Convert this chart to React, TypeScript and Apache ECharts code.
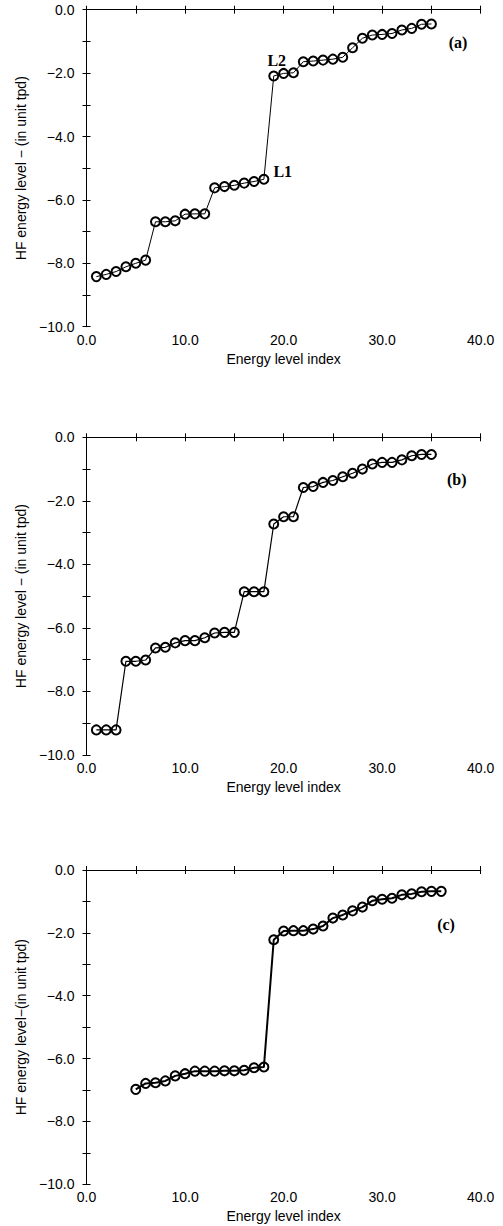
import React, { useEffect, useRef } from "react";
import * as echarts from "echarts";

// Energy levels (index starts given separately)
const aStart = 1;
const aLevels = [-8.42, -8.35, -8.26, -8.11, -8.0, -7.9, -6.69, -6.69, -6.66, -6.45, -6.44, -6.44, -5.62, -5.58, -5.54, -5.47, -5.42, -5.35, -2.09, -2.01, -1.99, -1.64, -1.62, -1.59, -1.56, -1.5, -1.2, -0.9, -0.8, -0.78, -0.75, -0.64, -0.59, -0.46, -0.45];
const bStart = 1;
const bLevels = [-9.21, -9.21, -9.21, -7.05, -7.05, -7.01, -6.63, -6.61, -6.47, -6.4, -6.4, -6.31, -6.16, -6.14, -6.14, -4.86, -4.86, -4.86, -2.73, -2.5, -2.5, -1.58, -1.55, -1.42, -1.36, -1.24, -1.13, -1.0, -0.84, -0.79, -0.79, -0.71, -0.58, -0.54, -0.54];
const cStart = 5;
const cLevels = [-6.98, -6.79, -6.77, -6.71, -6.55, -6.48, -6.4, -6.4, -6.4, -6.39, -6.39, -6.37, -6.29, -6.27, -2.22, -1.94, -1.93, -1.93, -1.88, -1.78, -1.53, -1.43, -1.3, -1.18, -0.98, -0.93, -0.9, -0.79, -0.76, -0.69, -0.68, -0.68];

const panelLabels = ["(a)", "(b)", "(c)"];
const yNames = ["HF energy level \u2212 (in unit tpd)", "HF energy level \u2212 (in unit tpd)", "HF energy level\u2212(in unit tpd)"];
const xName = "Energy level index";
const annotations = [
  { index: 18, text: "L1" },
  { index: 19, text: "L2" },
];
const xRange = [0, 40];
const yRange = [-10, 0];

const grids = [
  { left: 86.5, top: 9.7, width: 394.2, height: 317 },
  { left: 86.5, top: 437.3, width: 394.2, height: 317.7 },
  { left: 86.5, top: 870, width: 394.2, height: 314.3 },
];
const lineWidths = [1, 1.2, 2];
const panelLabelPos = [
  [458, 42],
  [456.7, 479],
  [446, 924],
];

const fmt = (v: number) => (v < 0 ? "\u2212" + Math.abs(v).toFixed(1) : v.toFixed(1));
const FONT = "'Liberation Sans', Arial, Helvetica, sans-serif";
const SERIF = "'Liberation Serif', 'Times New Roman', serif";

export default function App() {
  const ref = useRef<HTMLDivElement>(null);
  useEffect(() => {
    if (!ref.current) return;
    const chart = echarts.init(ref.current, undefined, { renderer: "svg" });
    const all = [
      { start: aStart, levels: aLevels },
      { start: bStart, levels: bLevels },
      { start: cStart, levels: cLevels },
    ];
    const xAxis: any[] = [];
    const yAxis: any[] = [];
    const series: any[] = [];
    const tickStyle = { show: true, inside: true, length: 4, lineStyle: { color: "#000", width: 1 } };
    const lineStyle = { show: true, lineStyle: { color: "#000", width: 1 } };
    grids.forEach((g, gi) => {
      xAxis.push({
        type: "value",
        gridIndex: gi,
        position: "bottom",
        min: xRange[0],
        max: xRange[1],
        interval: 5,
        name: xName,
        nameLocation: "middle",
        nameGap: 25,
        nameTextStyle: { color: "#000", fontFamily: FONT, fontSize: 14 },
        axisLine: lineStyle,
        axisTick: tickStyle,
        splitLine: { show: false },
        axisLabel: {
          color: "#000",
          fontFamily: FONT,
          fontSize: 14,
          margin: 6,
          formatter: (v: number) => (v % 10 === 0 ? fmt(v) : ""),
        },
      });
      xAxis.push({
        type: "value",
        gridIndex: gi,
        position: "top",
        min: xRange[0],
        max: xRange[1],
        interval: 5,
        axisLine: lineStyle,
        axisTick: tickStyle,
        splitLine: { show: false },
        axisLabel: { show: false },
      });
      yAxis.push({
        type: "value",
        gridIndex: gi,
        position: "left",
        min: yRange[0],
        max: yRange[1],
        interval: 1,
        name: yNames[gi],
        nameLocation: "middle",
        nameGap: 58,
        nameTextStyle: { color: "#000", fontFamily: FONT, fontSize: 14 },
        axisLine: lineStyle,
        axisTick: tickStyle,
        splitLine: { show: false },
        axisLabel: {
          color: "#000",
          fontFamily: FONT,
          fontSize: 14,
          margin: 12,
          formatter: (v: number) => (Math.round(v) % 2 === 0 ? fmt(v) : ""),
        },
      });
      yAxis.push({
        type: "value",
        gridIndex: gi,
        position: "right",
        min: yRange[0],
        max: yRange[1],
        interval: 1,
        axisLine: lineStyle,
        axisTick: tickStyle,
        splitLine: { show: false },
        axisLabel: { show: false },
      });
      const d = all[gi];
      const data = d.levels.map((v, i) => {
        const idx = d.start + i;
        const item: any = { value: [idx, v] };
        if (gi === 0) {
          const ann = annotations.find((a) => a.index === idx);
          if (ann) {
            item.label = ann.text === "L1"
              ? { show: true, position: "right", distance: 4, offset: [0, -8], formatter: ann.text, color: "#000", fontFamily: SERIF, fontWeight: "bold", fontSize: 16 }
              : { show: true, position: "top", distance: 2, offset: [3, 0], formatter: ann.text, color: "#000", fontFamily: SERIF, fontWeight: "bold", fontSize: 16 };
          }
        }
        return item;
      });
      series.push({
        type: "line",
        xAxisIndex: gi * 2,
        yAxisIndex: gi * 2,
        data,
        symbol: "circle",
        symbolSize: 9,
        showAllSymbol: true,
        lineStyle: { color: "#000", width: lineWidths[gi] },
        itemStyle: { color: "rgba(0,0,0,0)", borderColor: "#000", borderWidth: 2 },
        emphasis: { disabled: true },
        label: { show: false },
      });
    });
    const graphic = panelLabels.map((t, i) => ({
      type: "text",
      x: panelLabelPos[i][0],
      y: panelLabelPos[i][1],
      style: {
        text: t,
        fill: "#000",
        font: `bold 16px ${SERIF}`,
        textAlign: "center",
        textVerticalAlign: "middle",
      },
    }));
    chart.setOption({
      animation: false,
      backgroundColor: "#fff",
      grid: grids.map((g) => ({ ...g, containLabel: false })),
      xAxis,
      yAxis,
      series,
      graphic,
    });
    return () => chart.dispose();
  }, []);
  return <div ref={ref} style={{ position: "fixed", left: 0, top: 0, width: 503, height: 1226 }} />;
}
